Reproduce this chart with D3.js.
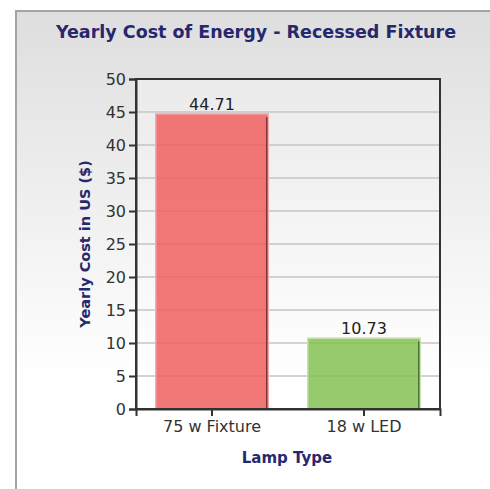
<!DOCTYPE html>
<html>
<head>
<meta charset="utf-8">
<script src="https://cdn.jsdelivr.net/npm/d3@7"></script>
<style>
  body { margin: 0; background: #fff; }
  text { font-family: "DejaVu Sans", sans-serif; }
</style>
</head>
<body>
<div id="chart"></div>
<script>
const categories = ["75 w Fixture", "18 w LED"];
const values = [44.71, 10.73];
const yTicks = [0, 5, 10, 15, 20, 25, 30, 35, 40, 45, 50];

const W = 490, H = 489;
const margin = { top: 79, left: 136 },
    width = 440 - margin.left,
    height = 409 - margin.top;

const svg = d3.select("#chart").append("svg")
    .attr("width", W)
    .attr("height", H);

// background gradient panel
const defs = svg.append("defs");
const grad = defs.append("linearGradient")
    .attr("id", "bg").attr("x1", 0).attr("y1", 0).attr("x2", 0).attr("y2", 1);
grad.append("stop").attr("offset", "0%").attr("stop-color", "#dedede");
grad.append("stop").attr("offset", "75%").attr("stop-color", "#ffffff");

svg.append("rect")
    .attr("x", 16).attr("y", 11)
    .attr("width", W).attr("height", H)
    .attr("fill", "url(#bg)")
    .attr("stroke", "#a4a4a4")
    .attr("stroke-width", 2);

svg.append("text")
    .attr("x", 256).attr("y", 38)
    .attr("text-anchor", "middle")
    .style("font-size", "17.5px")
    .style("font-weight", "bold")
    .style("fill", "#27276e")
    .text("Yearly Cost of Energy - Recessed Fixture");

const g = svg.append("g")
    .attr("transform", `translate(${margin.left}, ${margin.top})`);

const x = d3.scaleBand()
    .domain(categories)
    .range([0, width])
    .paddingInner(0.26)
    .paddingOuter(0.13);

const y = d3.scaleLinear()
    .domain([0, 50])
    .range([height, 0]);

// plot background
g.append("rect")
    .attr("width", width).attr("height", height)
    .attr("fill", "rgba(255,255,255,0.25)");

// gridlines
g.selectAll(".grid")
    .data(yTicks.filter(d => d > 0 && d < 50))
    .enter().append("line")
    .attr("x1", 0).attr("x2", width)
    .attr("y1", d => y(d)).attr("y2", d => y(d))
    .attr("stroke", "#c4c4c4")
    .attr("stroke-width", 1.5);

const colors = ["#f05f5f", "#85c154"];
const hi = ["#f9a8a8", "#c2e4a4"];
const dark = ["#5a2020", "#355226"];

const bars = g.selectAll(".bar")
    .data(values)
    .enter().append("g");

bars.append("rect")
    .attr("x", (d, i) => x(categories[i]))
    .attr("y", d => y(d))
    .attr("width", x.bandwidth())
    .attr("height", d => height - y(d))
    .attr("fill", (d, i) => colors[i])
    .attr("fill-opacity", 0.85)
    .attr("stroke", (d, i) => hi[i])
    .attr("stroke-width", 1.5);

// darker right edge
bars.append("line")
    .attr("x1", (d, i) => x(categories[i]) + x.bandwidth() - 1.5)
    .attr("x2", (d, i) => x(categories[i]) + x.bandwidth() - 1.5)
    .attr("y1", d => y(d) + 3)
    .attr("y2", height)
    .attr("stroke", (d, i) => dark[i])
    .attr("stroke-width", 1.5)
    .attr("opacity", 0.75);

bars.append("text")
    .attr("x", (d, i) => x(categories[i]) + x.bandwidth() / 2)
    .attr("y", d => y(d) - 4)
    .attr("text-anchor", "middle")
    .style("font-size", "16px")
    .style("fill", "#222")
    .text(d => d.toFixed(2));

// frame
g.append("rect")
    .attr("width", width).attr("height", height)
    .attr("fill", "none")
    .attr("stroke", "#333")
    .attr("stroke-width", 2);

// axes
const yAxis = g.append("g")
    .call(d3.axisLeft(y).tickValues(yTicks).tickSize(7).tickPadding(3));
const xAxis = g.append("g")
    .attr("transform", `translate(0, ${height})`)
    .call(d3.axisBottom(x).tickSize(7).tickPadding(5));

[yAxis, xAxis].forEach(a => {
    a.select(".domain").attr("stroke", "#333").attr("stroke-width", 2);
    a.selectAll(".tick line").attr("stroke", "#333").attr("stroke-width", 2);
    a.selectAll(".tick text")
        .style("font-size", "16px")
        .style("fill", "#333")
        .style("font-family", "DejaVu Sans, sans-serif");
});

// axis labels
svg.append("text")
    .attr("transform", "rotate(-90)")
    .attr("x", -244).attr("y", 90)
    .attr("text-anchor", "middle")
    .style("font-size", "14.5px")
    .style("font-weight", "bold")
    .style("fill", "#27276e")
    .text("Yearly Cost in US ($)");

svg.append("text")
    .attr("x", 287).attr("y", 463)
    .attr("text-anchor", "middle")
    .style("font-size", "15px")
    .style("font-weight", "bold")
    .style("fill", "#27276e")
    .text("Lamp Type");
</script>
</body>
</html>
